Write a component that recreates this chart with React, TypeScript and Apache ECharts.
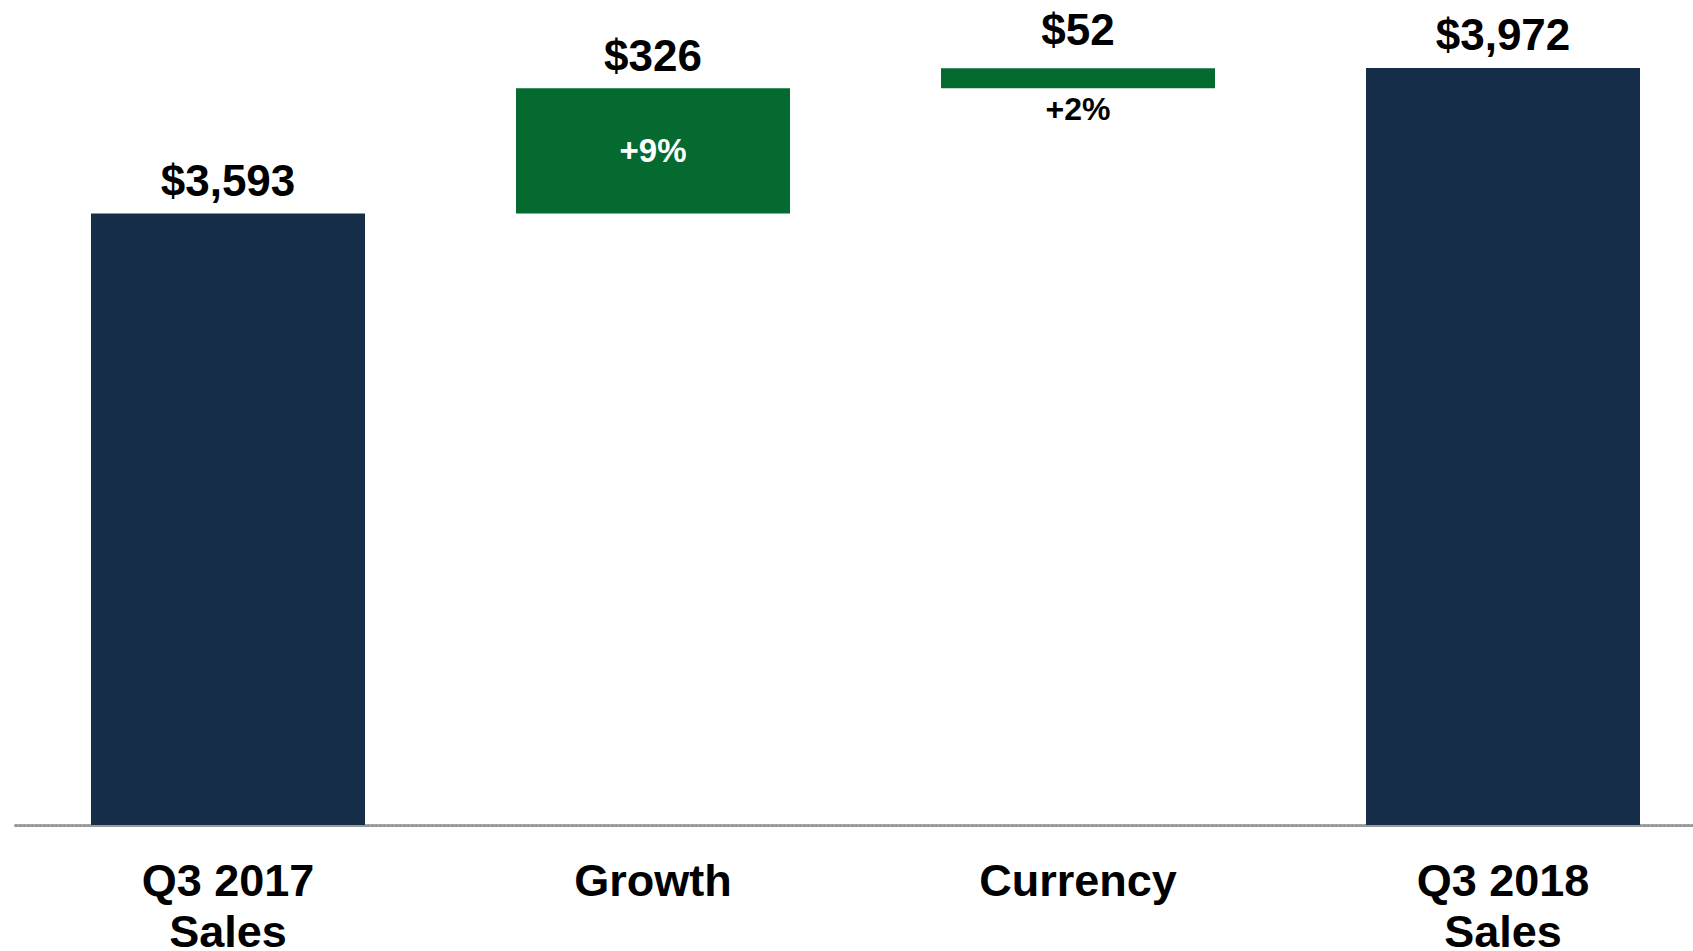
import React, { useEffect, useRef } from "react";
import * as echarts from "echarts";

const categories = ["Q3 2017\nSales", "Growth", "Currency", "Q3 2018\nSales"];
const barValues = [3593, 326, 52, 3972];
const baseValues = [0, 3593, 3919, 0];
const isTotal = [true, false, false, true];
const pctLabels = ["", "+9%", "+2%", ""];

const NAVY = "#152d48";
const GREEN = "#046a30";
const FONT = "'Liberation Sans', Arial, sans-serif";

const fmt = (v: number) => "$" + v.toLocaleString("en-US");

export default function App() {
  const ref = useRef<HTMLDivElement>(null);
  useEffect(() => {
    if (!ref.current) return;
    const chart = echarts.init(ref.current, null, { renderer: "svg" });

    const mainData = barValues.map((v, i) => ({
      value: v,
      itemStyle: { color: isTotal[i] ? NAVY : GREEN },
      label: { distance: i === 2 ? 17 : 11 },
    }));

    const growthMid = baseValues[1] + barValues[1] / 2;
    const currencyBottom = baseValues[2];

    chart.setOption({
      animation: false,
      grid: {
        left: 15.5,
        top: 57.2,
        width: 1700,
        bottom: 126,
        containLabel: false,
        outerBoundsMode: "none",
      },
      xAxis: {
        type: "category",
        data: categories,
        axisTick: { show: false },
        axisLine: { show: true, lineStyle: { color: "#9a9a9a", width: 3, type: [2, 2] } },
        axisLabel: {
          interval: 0,
          margin: 30,
          fontSize: 45,
          lineHeight: 51,
          fontWeight: "bold",
          color: "#000",
          fontFamily: FONT,
        },
      },
      yAxis: { type: "value", min: 2000, max: 4000, show: false, splitLine: { show: false } },
      series: [
        {
          type: "bar",
          stack: "wf",
          barWidth: 274,
          itemStyle: { color: "transparent" },
          data: baseValues,
          silent: true,
          clip: true,
          z: 1,
        },
        {
          type: "bar",
          stack: "wf",
          barWidth: 274,
          clip: true,
          data: mainData,
          label: {
            show: true,
            position: "top",
            fontSize: 44,
            fontWeight: "bold",
            color: "#000",
            fontFamily: FONT,
            formatter: (p: any) => fmt(p.value),
          },
          z: 2,
        },
        {
          type: "scatter",
          symbolSize: 0,
          itemStyle: { opacity: 1 },
          z: 5,
          data: [
            {
              value: [categories[1], growthMid],
              label: {
                show: true,
                position: "inside",
                formatter: pctLabels[1],
                color: "#ffffff",
                fontSize: 33,
                fontWeight: "bold",
                fontFamily: FONT,
              },
            },
            {
              value: [categories[2], currencyBottom],
              label: {
                show: true,
                position: "bottom",
                distance: 5,
                formatter: pctLabels[2],
                color: "#000000",
                fontSize: 32,
                fontWeight: "bold",
                fontFamily: FONT,
              },
            },
          ],
        },
      ],
    });
    return () => chart.dispose();
  }, []);

  return (
    <div
      ref={ref}
      style={{ position: "absolute", left: 0, top: 0, width: 1693, height: 951, background: "#fff" }}
    />
  );
}
